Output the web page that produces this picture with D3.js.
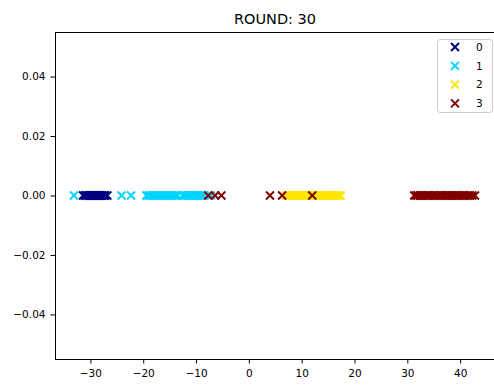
<!DOCTYPE html>
<html>
<head>
<meta charset="utf-8">
<script src="https://cdn.jsdelivr.net/npm/d3@7"></script>
<style>
  html, body { margin: 0; padding: 0; background: #fff; }
  svg { display: block; font-family: "DejaVu Sans", sans-serif; }
</style>
</head>
<body>
<svg id="chart" width="494" height="385"></svg>
<script>
// Cluster assignments along a 1-D embedding (all points sit at y = 0)
const classLabels = ["0", "1", "2", "3"];
const classColors = ["#000080", "#00d4ff", "#ffe600", "#800000"];

const class0 = [-31.4, -31.1, -30.8, -30.6, -30.3, -30.2, -29.9, -29.8, -29.6, -29.5,
  -29.2, -29.1, -28.9, -28.7, -28.6, -28.3, -28.2, -27.9, -27.7, -27.4, -27.2, -26.8];
const class1 = [-33.1, -24.1, -22.3, -19.4, -19.0, -18.7, -18.3, -18.1, -17.7, -17.4,
  -17.0, -16.7, -16.3, -16.0, -15.7, -15.3, -14.9, -14.6, -14.2, -13.9, -13.5,
  -12.5, -12.2, -11.8, -11.5, -11.2, -10.8, -10.5, -10.1, -9.8, -9.5, -9.1, -8.8, -8.5, -7.2];
const class2 = [7.0, 7.4, 7.7, 8.1, 8.5, 8.8, 9.2, 9.5, 9.9, 10.3, 10.6, 11.0, 11.3, 11.7,
  12.1, 12.4, 12.8, 13.1, 13.5, 13.9, 14.2, 14.6, 14.9, 15.3, 15.6, 16.0, 16.4, 16.7, 17.1, 17.4];
const class3 = [-7.7, -6.4, -5.2, 4.0, 6.3, 12.0,
  31.3, 31.7, 32.0, 32.4, 32.8, 33.1, 33.5, 33.9, 34.2, 34.6, 35.0, 35.3, 35.7, 36.1,
  36.4, 36.8, 37.2, 37.5, 37.9, 38.3, 38.6, 39.0, 39.4, 39.7, 40.1, 40.5, 40.8, 41.2,
  41.6, 41.9, 42.3, 42.8];
const classValues = [class0, class1, class2, class3];

const xTicks = [-30, -20, -10, 0, 10, 20, 30, 40];
const yTicks = [-0.04, -0.02, 0.00, 0.02, 0.04];
const titleText = "ROUND: 30";

// Layout
const margin = { left: 55, top: 32, right: 495, bottom: 359 };
const svg = d3.select("#chart");

const x = d3.scaleLinear().domain([-36.7, 46.6]).range([margin.left, margin.right]);
const y = d3.scaleLinear().domain([-0.055, 0.055]).range([margin.bottom, margin.top]);

// Points: 'x' markers, drawn class by class so later classes sit on top
const half = 4;
const markerPath = `M${-half},${-half}L${half},${half}M${-half},${half}L${half},${-half}`;
const markerStroke = 1.9;

const layers = svg.append("g");
classValues.forEach((vals, ci) => {
  layers.append("g")
    .selectAll("path")
    .data(vals)
    .join("path")
    .attr("d", markerPath)
    .attr("transform", d => `translate(${x(d)},${y(0)})`)
    .attr("stroke", classColors[ci])
    .attr("stroke-width", markerStroke)
    .attr("fill", "none");
});

// Axes
const tickFont = 10.5;
const xAxis = svg.append("g")
  .attr("transform", `translate(0,${margin.bottom})`)
  .call(d3.axisBottom(x).tickValues(xTicks).tickFormat(d3.format("d")).tickSize(4.5).tickPadding(6));
const yAxis = svg.append("g")
  .attr("transform", `translate(${margin.left},0)`)
  .call(d3.axisLeft(y).tickValues(yTicks).tickFormat(d3.format(".2f")).tickSize(4.5).tickPadding(5));

[xAxis, yAxis].forEach(a => {
  a.select(".domain").remove();
  a.selectAll("line").attr("stroke", "#000").attr("stroke-width", 1);
  a.selectAll("text").attr("fill", "#000").attr("font-size", tickFont)
    .attr("font-family", "DejaVu Sans, sans-serif");
});

// Frame
svg.append("rect")
  .attr("x", margin.left + 0.5).attr("y", margin.top + 0.5)
  .attr("width", margin.right - margin.left).attr("height", margin.bottom - margin.top)
  .attr("fill", "none").attr("stroke", "#000").attr("stroke-width", 1);

// Title
svg.append("text")
  .attr("x", 275).attr("y", 23.5)
  .attr("text-anchor", "middle")
  .attr("font-size", 14.5)
  .attr("fill", "#000")
  .text(titleText);

// Legend
const legend = svg.append("g");
legend.append("rect")
  .attr("x", 437.5).attr("y", 39.5).attr("width", 55).attr("height", 73)
  .attr("rx", 3).attr("fill", "#fff").attr("fill-opacity", 0.8)
  .attr("stroke", "#cccccc").attr("stroke-width", 1);
const rows = legend.selectAll("g.row")
  .data(classLabels)
  .join("g")
  .attr("class", "row")
  .attr("transform", (d, i) => `translate(0,${47 + i * 18.8})`);
rows.append("path")
  .attr("d", markerPath)
  .attr("transform", "translate(455,0)")
  .attr("stroke", (d, i) => classColors[i])
  .attr("stroke-width", markerStroke)
  .attr("fill", "none");
rows.append("text")
  .attr("x", 476).attr("y", 0).attr("dy", "0.36em")
  .attr("font-size", tickFont)
  .attr("fill", "#000")
  .text(d => d);
</script>
</body>
</html>
